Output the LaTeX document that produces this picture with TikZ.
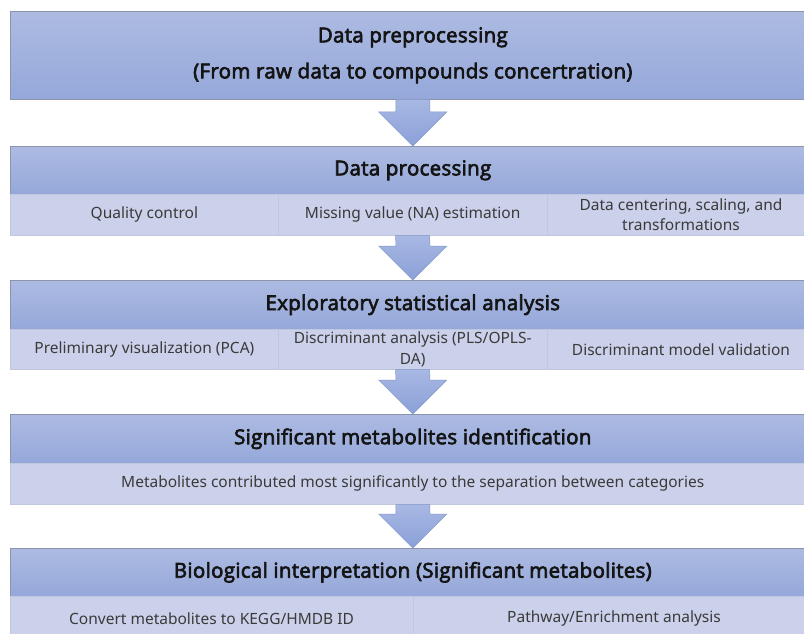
\documentclass[tikz,border=0pt]{standalone}
\usepackage{fontspec}
\setmainfont{Noto Sans}
\newfontfamily\hdrfont{Open Sans}[AutoFakeBold=3.2, LetterSpace=1.5]
\usetikzlibrary{calc}
\definecolor{hdtop}{HTML}{ADBBE2}
\definecolor{hdbot}{HTML}{95A8DA}
\definecolor{subfill}{HTML}{CBD1EA}
\definecolor{edgec}{HTML}{8C94AC}
\definecolor{celledge}{HTML}{C0C6DE}
\definecolor{subtxt}{HTML}{3A3A3A}
\definecolor{artop}{HTML}{A8B8E3}
\definecolor{arbot}{HTML}{8AA0D8}
\definecolor{aredge}{HTML}{8397CB}
\tikzset{
  hdr/.style={draw=edgec, line width=0.6pt, top color=hdtop, bottom color=hdbot,
    minimum width=805pt, inner sep=0pt, text=black!92,
    font=\hdrfont\bfseries\fontsize{20.5}{36}\selectfont, align=center, anchor=north west},
  cell/.style={draw=celledge, line width=0.5pt, fill=subfill, inner sep=0pt,
    text=subtxt, font=\fontsize{15.5}{20.5}\selectfont, align=center, anchor=north west},
  arr/.style={draw=aredge, line width=0.5pt, top color=artop, bottom color=arbot},
}
\newcommand\flowarr[2]{%
  \path[arr] ($(#1.south)+(-17,0)$) -- ($(#1.south)+(17,0)$)
    -- ($(#2.north)+(17,-34)$) -- ($(#2.north)+(34,-34)$) -- (#2.north)
    -- ($(#2.north)+(-34,-34)$) -- ($(#2.north)+(-17,-34)$) -- cycle;}
\begin{document}
\begin{tikzpicture}[x=1pt, y=-1pt]
\useasboundingbox (0,0) rectangle (804,634);
\clip (0,0) rectangle (804,634);
\fill[white] (0,0) rectangle (804,634);
% box 1
\node[hdr, minimum height=88pt] (b1) at (10,11)
  {Data preprocessing\\(From raw data to compounds concertration)};
% box 2
\node[hdr, minimum height=48pt] (b2) at (10,146) {Data processing};
\node[cell, minimum width=268.3pt, minimum height=41pt] (c2a) at (10,194) {Quality control};
\node[cell, minimum width=268.3pt, minimum height=41pt] (c2b) at (278.3,194) {Missing value (NA) estimation};
\node[cell, minimum width=268.3pt, minimum height=41pt] (c2c) at (546.6,194) {Data centering, scaling, and\\transformations};
% box 3
\node[hdr, minimum height=49pt] (b3) at (10,280) {Exploratory statistical analysis};
\node[cell, minimum width=268.3pt, minimum height=40pt] (c3a) at (10,329) {Preliminary visualization (PCA)};
\node[cell, minimum width=268.3pt, minimum height=40pt] (c3b) at (278.3,329) {Discriminant analysis (PLS/OPLS-\\DA)};
\node[cell, minimum width=268.3pt, minimum height=40pt] (c3c) at (546.6,329) {Discriminant model validation};
% box 4
\node[hdr, minimum height=49pt] (b4) at (10,414) {Significant metabolites identification};
\node[cell, minimum width=805pt, minimum height=41pt] (c4) at (10,463)
  {Metabolites contributed most significantly to the separation between categories};
% box 5
\node[hdr, minimum height=48pt] (b5) at (10,548) {Biological interpretation (Significant metabolites)};
\node[cell, minimum width=402.5pt, minimum height=44pt] (c5a) at (10,596) {Convert metabolites to KEGG/HMDB ID};
\node[cell, minimum width=402.5pt, minimum height=44pt] (c5b) at (412.5,596) {Pathway/Enrichment analysis};
% arrows
\flowarr{b1}{b2}
\flowarr{c2b}{b3}
\flowarr{c3b}{b4}
\flowarr{c4}{b5}
\end{tikzpicture}
\end{document}
